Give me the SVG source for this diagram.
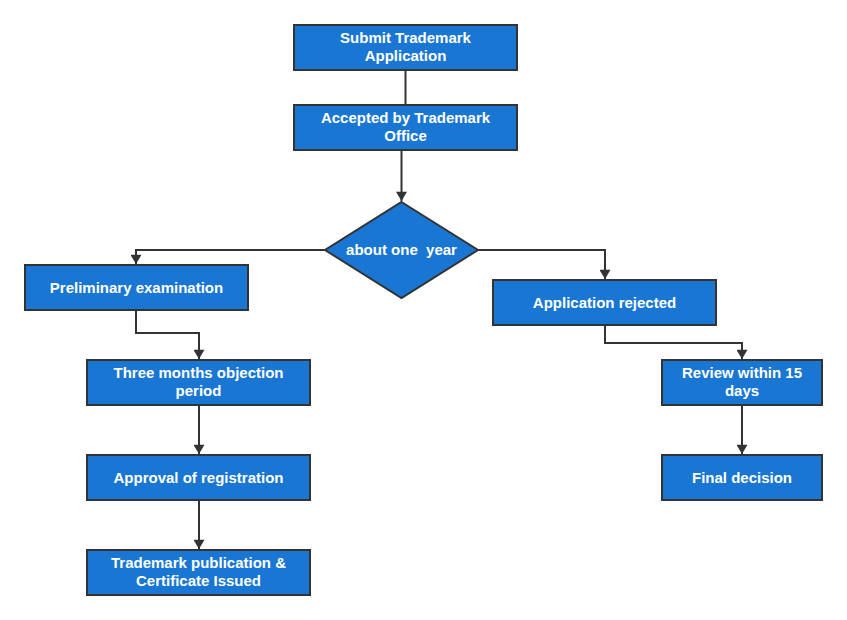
<svg xmlns="http://www.w3.org/2000/svg" width="847" height="620" viewBox="0 0 847 620">
<style>
.n{fill:#1976D2;stroke:#333;stroke-width:2}
.t{fill:#fff;font-family:"Liberation Sans",Arial,sans-serif;font-weight:bold;font-size:15px;text-anchor:middle;white-space:pre}
.c{fill:none;stroke:#333;stroke-width:2}
</style>
<defs>
<marker id="a" viewBox="0 0 10 12" refX="10" refY="6" markerWidth="6" markerHeight="5.5" orient="auto" markerUnits="strokeWidth"><path d="M0,0L10,6L0,12z" fill="#333"/></marker>
</defs>
<rect width="847" height="620" fill="#fff"/>
<g id="connectors">
<path class="c" d="M405.5,70V105"/>
<path class="c" d="M401.5,150V201" marker-end="url(#a)"/>
<path class="c" d="M325,250H136V264" marker-end="url(#a)"/>
<path class="c" d="M478,250H605V279" marker-end="url(#a)"/>
<path class="c" d="M136,310V333H199V359" marker-end="url(#a)"/>
<path class="c" d="M199,405V454" marker-end="url(#a)"/>
<path class="c" d="M199,500V549" marker-end="url(#a)"/>
<path class="c" d="M605,325V343H742V359" marker-end="url(#a)"/>
<path class="c" d="M742,405V454" marker-end="url(#a)"/>
</g>
<g id="submit"><rect class="n" x="294" y="25" width="223" height="45"/><text class="t" x="405.5" y="43">Submit Trademark</text><text class="t" x="405.5" y="61">Application</text></g>
<g id="accepted"><rect class="n" x="294" y="105" width="223" height="45"/><text class="t" x="405.5" y="123">Accepted by Trademark</text><text class="t" x="405.5" y="141">Office</text></g>
<g id="decision"><path class="n" d="M401.5,202L478,250L401.5,298L325,250Z"/><text class="t" x="401.5" y="255" xml:space="preserve">about one  year</text></g>
<g id="preliminary"><rect class="n" x="25" y="265" width="223" height="45"/><text class="t" x="136.5" y="292.5">Preliminary examination</text></g>
<g id="rejected"><rect class="n" x="493" y="280" width="223" height="45"/><text class="t" x="604.5" y="307.5">Application rejected</text></g>
<g id="objection"><rect class="n" x="87" y="360" width="223" height="45"/><text class="t" x="198.5" y="378">Three months objection</text><text class="t" x="198.5" y="396">period</text></g>
<g id="review"><rect class="n" x="662" y="360" width="160" height="45"/><text class="t" x="742" y="378">Review within 15</text><text class="t" x="742" y="396">days</text></g>
<g id="approval"><rect class="n" x="87" y="455" width="223" height="45"/><text class="t" x="198.5" y="482.5">Approval of registration</text></g>
<g id="final"><rect class="n" x="662" y="455" width="160" height="45"/><text class="t" x="742" y="482.5">Final decision</text></g>
<g id="publication"><rect class="n" x="87" y="550" width="223" height="45"/><text class="t" x="198.5" y="568">Trademark publication &amp;</text><text class="t" x="198.5" y="586">Certificate Issued</text></g>
</svg>
